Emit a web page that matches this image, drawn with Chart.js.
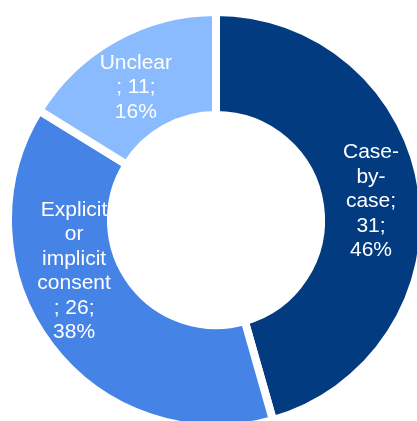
<!DOCTYPE html>
<html>
<head>
<meta charset="utf-8">
<script src="https://cdn.jsdelivr.net/npm/chart.js@4.4.0/dist/chart.umd.min.js"></script>
<style>
  html, body { margin: 0; padding: 0; background: #fff; overflow: hidden; }
  #wrap { position: absolute; left: 0; top: 0; width: 432px; height: 440px; }
</style>
</head>
<body>
<div id="wrap"><canvas id="chart"></canvas></div>
<script>
// data
const categories = ['Case-by-case', 'Explicit or implicit consent', 'Unclear'];
const counts = [31, 26, 11];
// how each category name wraps inside its slice
const nameLines = [['Case-', 'by-', 'case;'], ['Explicit', 'or', 'implicit', 'consent'], ['Unclear']];
const colours = ['#023B80', '#4683E6', '#8ABBFF'];

const total = counts.reduce((a, b) => a + b, 0);

// white multi-line labels drawn in each slice
const sliceLabels = {
    id: 'sliceLabels',
    afterDatasetsDraw (chart, args, opts) {
        const ctx = chart.ctx;
        const arcs = chart.getDatasetMeta(0).data;
        ctx.save();
        ctx.fillStyle = '#fff';
        ctx.font = opts.font;
        ctx.textAlign = 'center';
        ctx.textBaseline = 'middle';
        arcs.forEach((arc, i) => {
            const pos = arc.tooltipPosition();
            const off = opts.offsets[i];
            const lines = nameLines[i].slice();
            const last = lines[lines.length - 1];
            lines.push(last.endsWith(';') ? `${counts[i]};` : `; ${counts[i]};`);
            lines.push(Math.round(counts[i] / total * 100) + '%');
            const y0 = pos.y + off[1] - (lines.length - 1) * opts.lineHeight / 2;
            lines.forEach((s, j) => ctx.fillText(s, pos.x + off[0], y0 + j * opts.lineHeight));
        });
        ctx.restore();
    }
};

new Chart(document.getElementById('chart'), {
    type: 'doughnut',
    data: {
        labels: categories,
        datasets: [{
            data: counts,
            backgroundColor: colours,
            borderColor: '#fff',
            borderWidth: 8
        }]
    },
    options: {
        responsive: true,
        maintainAspectRatio: false,
        animation: false,
        cutout: '50.5%',
        layout: { padding: { left: 4, right: 4, top: 8, bottom: 8 } },
        plugins: {
            legend: { display: false },
            tooltip: { enabled: false },
            sliceLabels: {
                font: '21px "Liberation Sans", Arial, sans-serif',
                lineHeight: 24.5,
                offsets: [[0, 3], [-17, -43], [-4, 4]]
            }
        }
    },
    plugins: [sliceLabels]
});
</script>
</body>
</html>
